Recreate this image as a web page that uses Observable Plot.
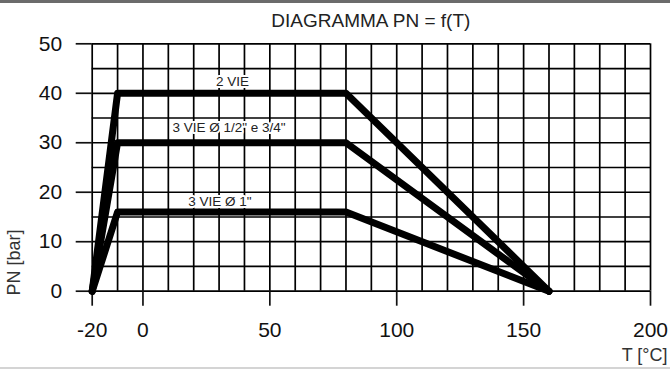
<!DOCTYPE html>
<html><head><meta charset="utf-8">
<script src="https://cdn.jsdelivr.net/npm/d3@7"></script>
<script src="https://cdn.jsdelivr.net/npm/@observablehq/plot@0.6"></script>
<style>
html,body{margin:0;padding:0;background:#fff;}
#wrap{width:670px;height:369px;box-sizing:border-box;border-top:3px solid #6b6b6b;border-bottom:2px solid #d4d4d4;overflow:hidden;}
#title{font-family:"Liberation Sans",Arial,sans-serif;font-size:19px;line-height:20px;height:20px;padding:8px 20px 5px 91.7px;text-align:center;color:#222;}
#chart svg{display:block;}
</style></head><body>
<div id="wrap"><div id="title">DIAGRAMMA PN = f(T)</div><div id="chart"></div></div>
<script>
const seriesNames = ["2 VIE", "3 VIE Ø 1/2\" e 3/4\"", "3 VIE Ø 1\""];
const temps = [-20, -10, 80, 160];
const pn2vie = [0, 40, 40, 0];
const pn3vieSmall = [0, 30, 30, 0];
const pn3vie1 = [0, 16, 16, 0];
const labelT = [35.3, 33.9, 30.3];
const labelPN = [41.5, 32.1, 17.2];
const xTicks = [-20, 0, 50, 100, 150, 200];
const yTicks = [0, 10, 20, 30, 40, 50];
const xGrid = [-20, -10, 0, 10, 20, 30, 40, 50, 60, 70, 80, 90, 100, 110, 120, 130, 140, 150, 160, 170, 180, 190, 200];
const yGrid = [0, 5, 10, 15, 20, 25, 30, 35, 40, 45, 50];

const seriesValues = [pn2vie, pn3vieSmall, pn3vie1];
const data = [];
seriesValues.forEach((vals, i) => temps.forEach((t, j) => data.push({series: seriesNames[i], T: t, PN: vals[j]})));
const labels = seriesNames.map((s, i) => ({text: s, T: labelT[i], PN: labelPN[i]}));

const chart = Plot.plot({
  width: 670, height: 331,
  marginTop: 7.3, marginBottom: 76.3, marginLeft: 91.7, marginRight: 20,
  style: {fontFamily: "Liberation Sans, Arial, sans-serif", fontSize: "21px", color: "#111", background: "white", overflow: "visible"},
  x: {domain: [-20, 200]},
  y: {domain: [0, 50]},
  marks: [
    Plot.gridX({ticks: xGrid, stroke: "#000", strokeOpacity: 1, strokeWidth: 1.7}),
    Plot.gridY({ticks: yGrid, stroke: "#000", strokeOpacity: 1, strokeWidth: 1.7}),
    Plot.axisX({ticks: xTicks, tickSize: 15, tickPadding: 16, strokeWidth: 1.7, label: null, fontSize: 21, tickFormat: d => String(d)}),
    Plot.axisY({ticks: yTicks, tickSize: 16, tickPadding: 14, strokeWidth: 1.7, label: null, fontSize: 21, tickFormat: d => String(d)}),
    Plot.line(data, {x: "T", y: "PN", z: "series", stroke: "#000", strokeWidth: 7, strokeLinejoin: "round", strokeLinecap: "round"}),
    Plot.text(labels, {x: "T", y: "PN", text: "text", fontSize: 13.5, fill: "#222", stroke: "white", strokeWidth: 4, paintOrder: "stroke", lineAnchor: "bottom"}),
    Plot.text(["PN [bar]"], {text: d => d, frameAnchor: "bottom-left", rotate: -90, textAnchor: "start", dx: -72.7, dy: 4.3, fontSize: 18, fill: "#333"}),
    Plot.text(["T [°C]"], {text: d => d, frameAnchor: "bottom-right", textAnchor: "end", dx: 17, dy: 69.3, fontSize: 18, fill: "#333"})
  ]
});
document.getElementById("chart").appendChild(chart);
</script>
</body></html>
